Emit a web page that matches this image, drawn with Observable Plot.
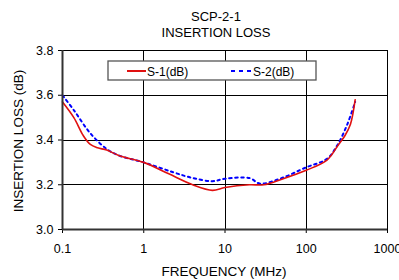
<!DOCTYPE html>
<html><head><meta charset="utf-8">
<script src="https://cdn.jsdelivr.net/npm/d3@7"></script>
<script src="https://cdn.jsdelivr.net/npm/@observablehq/plot@0.6"></script>
<style>body{margin:0;background:#fff;}svg{display:block;}</style>
</head><body><div id="chart"></div>
<script>
const title = ["SCP-2-1", "INSERTION LOSS"];
const xLabel = "FREQUENCY (MHz)";
const yLabel = "INSERTION LOSS (dB)";
const seriesNames = ["S-1(dB)", "S-2(dB)"];
const xTicks = [0.1, 1, 10, 100, 1000];
const xTickLabels = ["0.1", "1", "10", "100", "1000"];
const yTicks = [3.0, 3.2, 3.4, 3.6, 3.8];

const s1Freq = [0.1, 0.138, 0.18, 0.22, 0.27, 0.35, 0.5, 1, 2, 4, 7, 10, 20, 30, 50, 100, 180, 250, 300, 350, 400];
const s1Loss = [3.57, 3.50, 3.42, 3.38, 3.365, 3.355, 3.33, 3.30, 3.25, 3.20, 3.175, 3.188, 3.20, 3.20, 3.225, 3.265, 3.31, 3.38, 3.42, 3.47, 3.58];
const s2Freq = [0.1, 0.14, 0.22, 0.35, 0.5, 1, 2.3, 4, 7, 10, 20, 27, 50, 100, 180, 240, 320, 400];
const s2Loss = [3.60, 3.53, 3.43, 3.36, 3.33, 3.30, 3.256, 3.23, 3.216, 3.227, 3.23, 3.205, 3.23, 3.278, 3.316, 3.375, 3.47, 3.57];

const s1 = s1Freq.map((f, i) => ({f, v: s1Loss[i]}));
const s2 = s2Freq.map((f, i) => ({f, v: s2Loss[i]}));
const xLabelOf = new Map(xTicks.map((t, i) => [t, xTickLabels[i]]));

const W = 399, H = 280;
const mL = 62, mR = 12, mT = 50, mB = 51;
const font = "Liberation Sans, Arial, sans-serif";

const plot = Plot.plot({
  width: W, height: H,
  marginLeft: mL, marginRight: mR, marginTop: mT, marginBottom: mB,
  style: {fontFamily: font, fontSize: "12.5px", background: "#fff", color: "#000", overflow: "visible"},
  x: {type: "log", domain: [0.1, 1000]},
  y: {domain: [3.0, 3.8]},
  marks: [
    Plot.ruleX(xTicks.slice(1), {stroke: "#000", strokeWidth: 1, shapeRendering: "crispEdges"}),
    Plot.ruleY(yTicks.slice(1), {stroke: "#000", strokeWidth: 1, shapeRendering: "crispEdges"}),
    Plot.axisX({ticks: xTicks, tickFormat: d => xLabelOf.get(d) ?? "", tickSize: 4, tickPadding: 11, fontSize: 12.5, stroke: "#000", label: null}),
    Plot.axisY({ticks: yTicks, tickFormat: d3.format(".1f"), tickSize: 4, tickPadding: 5, fontSize: 12.5, stroke: "#000", label: null}),
    Plot.line(s2, {x: "f", y: "v", stroke: "#0000ff", strokeWidth: 2, strokeDasharray: "2.5,3.5", curve: "catmull-rom"}),
    Plot.line(s1, {x: "f", y: "v", stroke: "#e01010", strokeWidth: 1.6, curve: "catmull-rom"}),
    Plot.ruleX([0.1], {stroke: "#333", strokeWidth: 2}),
    Plot.ruleY([3.0], {stroke: "#333", strokeWidth: 2})
  ]
});

const svg = d3.select(plot);
const g = svg.append("g").attr("font-family", font).attr("fill", "#000");
g.append("text").attr("x", 216).attr("y", 21).attr("text-anchor", "middle").attr("font-size", 13).text(title[0]);
g.append("text").attr("x", 216).attr("y", 37).attr("text-anchor", "middle").attr("font-size", 13).text(title[1]);
g.append("text").attr("x", 224).attr("y", 276).attr("text-anchor", "middle").attr("font-size", 13.5).text(xLabel);
g.append("text").attr("transform", "translate(23,141) rotate(-90)").attr("text-anchor", "middle").attr("font-size", 13.5).text(yLabel);

// legend
const lg = svg.append("g").attr("font-family", font).attr("font-size", 12);
lg.append("rect").attr("x", 108).attr("y", 61).attr("width", 208).attr("height", 19).attr("fill", "#fff").attr("stroke", "#555").attr("stroke-width", 1.3);
lg.append("line").attr("x1", 127).attr("x2", 146).attr("y1", 71).attr("y2", 71).attr("stroke", "#e01010").attr("stroke-width", 2);
lg.append("text").attr("x", 147).attr("y", 75.5).attr("text-anchor", "start").attr("fill", "#000").text(seriesNames[0]);
lg.append("line").attr("x1", 231).attr("x2", 251).attr("y1", 71).attr("y2", 71).attr("stroke", "#0000ff").attr("stroke-width", 2).attr("stroke-dasharray", "4,4");
lg.append("text").attr("x", 253).attr("y", 75.5).attr("text-anchor", "start").attr("fill", "#000").text(seriesNames[1]);

document.getElementById("chart").appendChild(plot);
</script></body></html>
